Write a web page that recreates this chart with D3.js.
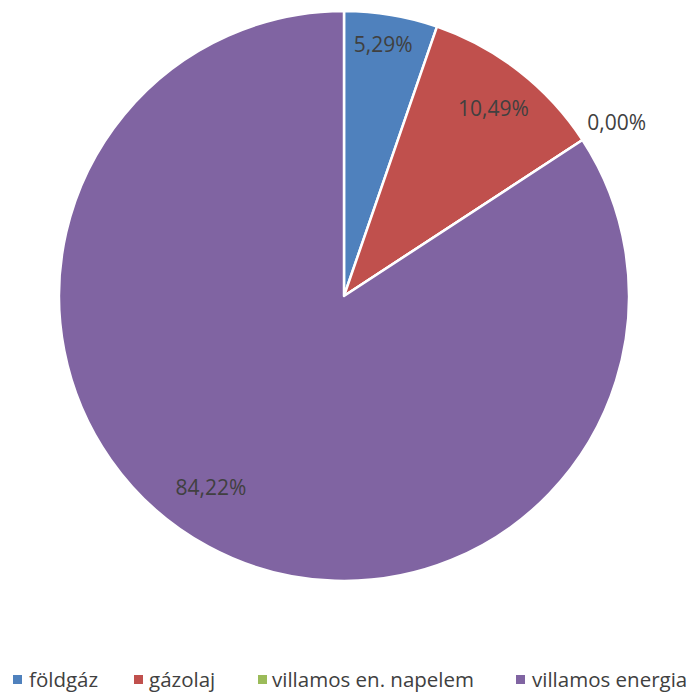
<!DOCTYPE html>
<html><head><meta charset="utf-8">
<script src="https://cdn.jsdelivr.net/npm/d3@7"></script>
<style>body{margin:0;background:#fff}</style>
</head><body>
<svg id="c" width="690" height="695"></svg>
<script>
const categories = ["földgáz", "gázolaj", "villamos en. napelem", "villamos energia"];
const values = [5.29, 10.49, 0.00, 84.22];
const labels = ["5,29%", "10,49%", "0,00%", "84,22%"];
const colors = ["#4F81BD", "#C0504D", "#9BBB59", "#8064A2"];

const svg = d3.select("#c");
const cx = 344, cy = 296, R = 285;
const font = "'Open Sans', 'Liberation Sans', sans-serif";
const fs = 21;
const g = svg.append("g").attr("transform", `translate(${cx},${cy})`);
const pie = d3.pie().sort(null).value(d => d);
const arcs = pie(values);
const arc = d3.arc().innerRadius(0).outerRadius(R);
g.selectAll("path").data(arcs).join("path")
  .attr("d", arc).attr("fill", (d, i) => colors[i])
  .attr("stroke", "#fff").attr("stroke-width", 2.5).attr("stroke-linejoin", "round");

// label placement (radius, angle shift in degrees) mimicking Excel best-fit
const place = [[255, -0.7], [240, 0.6], [323, 0.8], [233, 6.4]];
arcs.forEach((d, i) => {
  const a = (d.startAngle + d.endAngle) / 2 + place[i][1] * Math.PI / 180;
  const r = place[i][0];
  g.append("text").attr("x", Math.sin(a) * r).attr("y", -Math.cos(a) * r + 0.357 * fs)
    .attr("text-anchor", "middle")
    .attr("font-family", font).attr("font-size", fs).attr("fill", "#404040").text(labels[i]);
});

const legX = [13, 134, 258, 516];
const legT = [29, 149, 272, 532];
const lg = svg.append("g");
categories.forEach((c, i) => {
  lg.append("rect").attr("x", legX[i]).attr("y", 675).attr("width", 9).attr("height", 9).attr("fill", colors[i]);
  lg.append("text").attr("x", legT[i]).attr("y", 687)
    .attr("font-family", font).attr("font-size", 20.5).attr("fill", "#404040").text(c);
});
</script>
</body></html>
